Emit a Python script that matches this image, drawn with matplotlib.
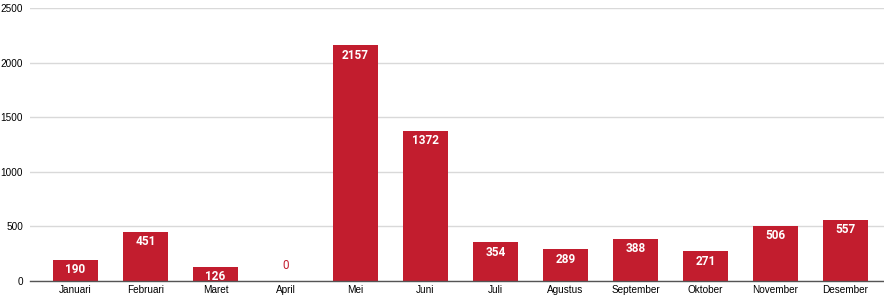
import numpy as np
import matplotlib.pyplot as plt

# data
bulan = ['Januari', 'Februari', 'Maret', 'April', 'Mei', 'Juni', 'Juli',
         'Agustus', 'September', 'Oktober', 'November', 'Desember']
nilai = [190, 451, 126, 0, 2157, 1372, 354, 289, 388, 271, 506, 557]
yticks = [0, 500, 1000, 1500, 2000, 2500]

merah = '#c21d2e'

fig = plt.figure(figsize=(8.84, 2.99), dpi=100)
ax = fig.add_axes([30/884, 18/299, 854/884, 273/299])

x = np.arange(len(bulan))
bars = ax.bar(x, nilai, width=0.645, color=merah, zorder=3)

# label nilai
for xi, v in zip(x, nilai):
    if v > 0:
        ax.annotate(str(v), (xi, v), xytext=(0, -7), textcoords='offset points',
                    ha='center', va='center', color='white', fontsize=8.5,
                    fontweight='bold', family='Roboto', zorder=4)
    else:
        ax.annotate(str(v), (xi, v), xytext=(0, 11), textcoords='offset points',
                    ha='center', va='center', color=merah, fontsize=8.5,
                    family='Roboto', zorder=4)

ax.set_xlim(-0.65, 11.55)
ax.set_ylim(0, 2500)
ax.set_yticks(yticks)
ax.set_xticks(x)
ax.set_xticklabels(bulan, fontsize=7.2, family='Liberation Sans')
ax.set_yticklabels([str(t) for t in yticks], fontsize=7.2, family='Liberation Sans')
ax.tick_params(length=0, pad=3)
ax.tick_params(axis='y', pad=5)

ax.grid(True, axis='y', color='#d9d9d9', linewidth=1, zorder=0)
for s in ['top', 'right', 'left']:
    ax.spines[s].set_visible(False)
ax.spines['bottom'].set_color('#555555')
ax.spines['bottom'].set_linewidth(1)
ax.spines['bottom'].set_zorder(5)

plt.savefig('out.png', dpi=100)
